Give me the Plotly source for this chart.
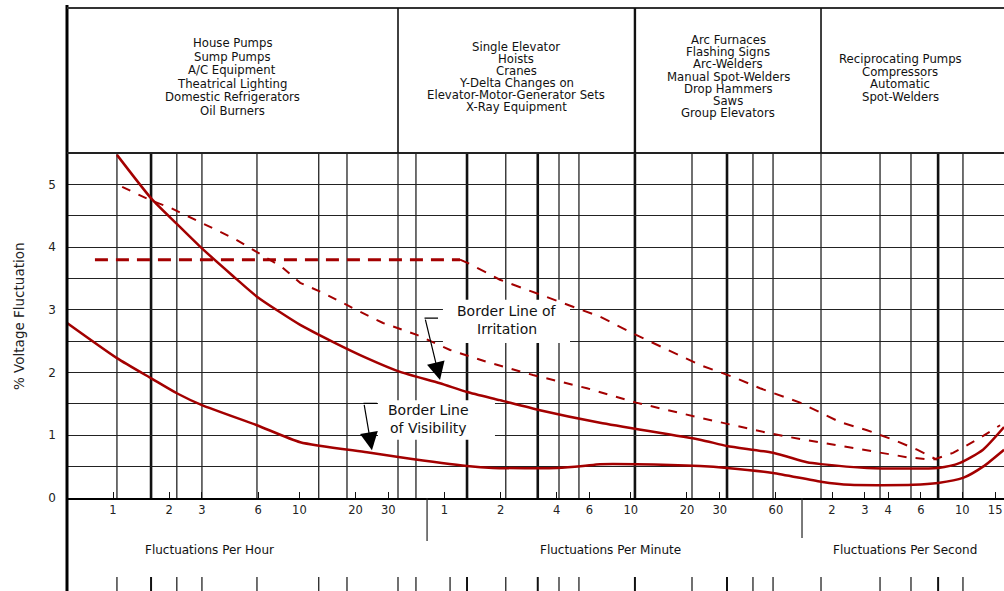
import numpy as np
import plotly.graph_objects as go

# ---------------- data (x: fluctuations per hour, y: % voltage fluctuation) ----------------
vis_f = [0.567, 1.05, 1.62, 2.20, 3.00, 5.92, 10.1, 23.0, 34.7, 79.3, 109, 241, 332, 410, 640,
         1409, 1968, 3475, 6285, 8990, 19600, 26700, 36300, 46500, 60300]
vis_v = [2.79, 2.23, 1.90, 1.67, 1.48, 1.16, 0.89, 0.73, 0.65, 0.51, 0.48, 0.48, 0.51, 0.54, 0.54,
         0.51, 0.48, 0.40, 0.26, 0.21, 0.21, 0.24, 0.32, 0.50, 0.77]

irr_f = [1.05, 1.62, 2.20, 3.00, 4.40, 5.92, 10.1, 15.1, 23.0, 34.7, 56.8, 79.3, 119, 195, 410,
         1409, 1968, 3475, 5286, 6285, 11100, 26700, 35000, 46500, 60300]
irr_v = [5.47, 4.76, 4.37, 3.98, 3.54, 3.21, 2.76, 2.49, 2.23, 2.01, 1.83, 1.69, 1.56, 1.40, 1.20,
         0.93, 0.83, 0.72, 0.57, 0.54, 0.48, 0.48, 0.56, 0.77, 1.13]

dashA_f = [1.12, 1.58, 2.02, 2.69, 3.44, 4.51, 5.92, 8.07, 10.1, 13.4, 18.7, 28.1, 42.7, 64.3, 101,
           179, 349, 640, 1409, 2119, 3228, 4853, 7295, 11940, 18200, 25100, 32100, 43200, 57400]
dashA_v = [4.96, 4.75, 4.63, 4.45, 4.29, 4.13, 3.92, 3.68, 3.43, 3.27, 3.05, 2.79, 2.60, 2.36, 2.17,
           1.96, 1.75, 1.52, 1.28, 1.16, 1.04, 0.94, 0.85, 0.75, 0.65, 0.61, 0.72, 0.93, 1.16]

plateau_f = [0.80, 72.7]
plateau_v = [3.80, 3.80]

dashB_f = [72.7, 82.3, 119, 195, 410, 640, 1409, 2119, 2958, 4853, 7945, 11100, 15300, 20600, 26300]
dashB_v = [3.80, 3.73, 3.48, 3.24, 2.89, 2.60, 2.12, 1.93, 1.75, 1.52, 1.21, 1.08, 0.93, 0.77, 0.61]

# tick labels
hour_ticks = [1, 2, 3, 6, 10, 20, 30]
minute_ticks = [1, 2, 4, 6, 10, 20, 30, 60]
second_ticks = [2, 3, 4, 6, 10, 15]
y_ticks = [0, 1, 2, 3, 4, 5]

# vertical grid lines (fluctuations per hour)
grid_f = [1.05, 1.60, 2.20, 3.00, 5.92, 12.7, 18.0, 33.8, 42.2, 79.3, 128, 190, 247, 316, 631,
          1277, 1968, 2712, 3475, 6285, 13030, 19100, 26700, 36300]
grid_thick = [1.60, 79.3, 190, 631, 1968, 26700]
bottom_tick_f = grid_f + [64.3]

# category texts
categories = [
    ["House Pumps", "Sump Pumps", "A/C Equipment", "Theatrical Lighting",
     "Domestic Refrigerators", "Oil Burners"],
    ["Single Elevator", "Hoists", "Cranes", "Y-Delta Changes on",
     "Elevator-Motor-Generator Sets", "X-Ray Equipment"],
    ["Arc Furnaces", "Flashing Signs", "Arc-Welders", "Manual Spot-Welders",
     "Drop Hammers", "Saws", "Group Elevators"],
    ["Reciprocating Pumps", "Compressors", "Automatic", "Spot-Welders"],
]
divider_f = [33.8, 631, 6285]

scale_labels = ["Fluctuations Per Hour", "Fluctuations Per Minute", "Fluctuations Per Second"]
scale_sep_f = [48.4, 4970]

# callout labels: (text lines, centre freq, line values)
callouts = [
    (["Border Line of", "Irritation"], 130, [2.98, 2.69]),
    (["Border Line", "of Visibility"], 49, [1.40, 1.11]),
]

# ---------------- layout constants ----------------
W, H = 1004, 591
ML, MR, MT, MB = 67, 0, 153, 93
PW, PH = W - ML - MR, H - MT - MB
XR = [-0.2468, 4.780]
YR = [0, 5.5]
RED = "#a30000"
FONT = "DejaVu Sans"


def px_x(px):
    return (px - ML) / PW


def px_y(py):
    return (H - MB - py) / PH


fig = go.Figure()

fig.add_trace(go.Scatter(x=vis_f, y=vis_v, mode="lines", line_shape="spline",
                         line=dict(color=RED, width=2.5, smoothing=0.6),
                         hoverinfo="skip", showlegend=False))
fig.add_trace(go.Scatter(x=irr_f, y=irr_v, mode="lines", line_shape="spline",
                         line=dict(color=RED, width=2.5, smoothing=0.6),
                         hoverinfo="skip", showlegend=False))
fig.add_trace(go.Scatter(x=dashA_f, y=dashA_v, mode="lines",
                         line=dict(color=RED, width=2, dash="9px,9px"),
                         hoverinfo="skip", showlegend=False))
fig.add_trace(go.Scatter(x=plateau_f, y=plateau_v, mode="lines",
                         line=dict(color=RED, width=3, dash="13px,8px"),
                         hoverinfo="skip", showlegend=False))
fig.add_trace(go.Scatter(x=dashB_f, y=dashB_v, mode="lines",
                         line=dict(color=RED, width=2, dash="10px,9px"),
                         hoverinfo="skip", showlegend=False))

shapes = []
# vertical grid lines
for f in grid_f:
    shapes.append(dict(type="line", xref="x", yref="paper", x0=f, x1=f, y0=0, y1=1,
                       line=dict(color="#111", width=2.6 if f in grid_thick else 1.2),
                       layer="between"))
# white boxes behind callout labels
shapes.append(dict(type="rect", xref="x", yref="y", x0=58.9, x1=283, y0=2.47, y1=3.16,
                   fillcolor="white", line=dict(width=0), layer="between"))
shapes.append(dict(type="rect", xref="x", yref="y", x0=26.4, x1=112, y0=0.93, y1=1.56,
                   fillcolor="white", line=dict(width=0), layer="between"))
# frame
shapes.append(dict(type="line", xref="paper", yref="paper", x0=0, x1=0,
                   y0=px_y(591), y1=px_y(5), line=dict(color="black", width=3), layer="above"))
shapes.append(dict(type="line", xref="paper", yref="paper", x0=0, x1=1, y0=1, y1=1,
                   line=dict(color="#222", width=2), layer="above"))
shapes.append(dict(type="line", xref="paper", yref="paper", x0=0, x1=1,
                   y0=px_y(8), y1=px_y(8), line=dict(color="#333", width=2), layer="above"))
for f in divider_f:
    shapes.append(dict(type="line", xref="x", yref="paper", x0=f, x1=f, y0=1, y1=px_y(8),
                       line=dict(color="#111", width=2.4 if f == 631 else 1.6), layer="above"))
# separators between scales
for f, yb in zip(scale_sep_f, [541, 538]):
    shapes.append(dict(type="line", xref="x", yref="paper", x0=f, x1=f, y0=0, y1=px_y(yb),
                       line=dict(color="#222", width=1.2), layer="above"))
# bottom ticks
for f in bottom_tick_f:
    shapes.append(dict(type="line", xref="x", yref="paper", x0=f, x1=f,
                       y0=px_y(577), y1=px_y(591),
                       line=dict(color="#111", width=2 if f in grid_thick else 1.2),
                       layer="above"))

annotations = []
# category text columns
col_cx = [232, 516, 728, 900]
col_top = [43, 47, 40, 59]
col_step = [13.6, 12.0, 12.2, 12.7]
for lines, cx, top, step in zip(categories, col_cx, col_top, col_step):
    for i, t in enumerate(lines):
        annotations.append(dict(text=t, xref="paper", yref="paper", x=px_x(cx),
                                y=px_y(top + i * step), showarrow=False,
                                xanchor="center", yanchor="middle",
                                font=dict(family=FONT, size=11.7, color="#111")))
# scale labels
for t, cx in zip(scale_labels, [209, 610, 905]):
    annotations.append(dict(text=t, xref="paper", yref="paper", x=px_x(cx), y=px_y(550),
                            showarrow=False, xanchor="center", yanchor="middle",
                            font=dict(family=FONT, size=12, color="#111")))
# y axis title
annotations.append(dict(text="% Voltage Fluctuation", xref="paper", yref="paper",
                        x=px_x(19), y=px_y(316), textangle=-90, showarrow=False,
                        xanchor="center", yanchor="middle",
                        font=dict(family=FONT, size=13.5, color="#222")))
# callout labels
for lines, f, vals in callouts:
    for t, v in zip(lines, vals):
        annotations.append(dict(text=t, xref="x", yref="y", x=np.log10(f), y=v,
                                showarrow=False, xanchor="center", yanchor="middle",
                                font=dict(family=FONT, size=14, color="#111")))

# arrows: tip on curve, start offsets in pixels
PXD = PW / (XR[1] - XR[0])   # pixels per decade
PYU = PH / (YR[1] - YR[0])   # pixels per % unit
arrows = [  # (tip freq, tip value, dx, dy)
    (56.8, 1.88, -15, -62),
    (24.5, 0.76, -8, -47),
]
for f, v, dx, dy in arrows:
    annotations.append(dict(text="", xref="x", yref="y", x=np.log10(f), y=v,
                            ax=dx, ay=dy, showarrow=True, arrowhead=2, arrowsize=3,
                            arrowwidth=1.2, arrowcolor="black"))
    # short horizontal lead-in at the start of the arrow
    sx = np.log10(f) + (dx + 13) / PXD
    sy = v - dy / PYU
    annotations.append(dict(text="", xref="x", yref="y", x=sx, y=sy,
                            ax=-15, ay=0, showarrow=True, arrowhead=0,
                            arrowwidth=1.2, arrowcolor="black"))

tickvals = hour_ticks + [m * 60 for m in minute_ticks] + [s * 3600 for s in second_ticks]
ticktext = [str(v) for v in hour_ticks + minute_ticks + second_ticks]

fig.update_layout(
    width=W, height=H,
    margin=dict(l=ML, r=MR, t=MT, b=MB, pad=0),
    paper_bgcolor="white", plot_bgcolor="white",
    shapes=shapes, annotations=annotations, showlegend=False,
    xaxis=dict(type="log", range=XR, tickvals=tickvals, ticktext=ticktext,
               showgrid=False, zeroline=False, ticks="inside", ticklen=6,
               tickcolor="#111", tickwidth=1.2,
               showline=True, linecolor="black", linewidth=2,
               tickfont=dict(family=FONT, size=11.5, color="#222")),
    yaxis=dict(range=YR, tickvals=y_ticks, showgrid=True, gridcolor="#222", gridwidth=1.1,
               minor=dict(tickvals=[0.5, 1.5, 2.5, 3.5, 4.5], showgrid=True,
                          gridcolor="#222", gridwidth=1.1),
               zeroline=False, showline=False, ticks="", ticklabelstandoff=10,
               tickfont=dict(family=FONT, size=12, color="#222")),
)

fig.write_html("out.html", config={"displayModeBar": False},
               post_script="document.body.style.margin='0';document.body.style.overflow='hidden';")
